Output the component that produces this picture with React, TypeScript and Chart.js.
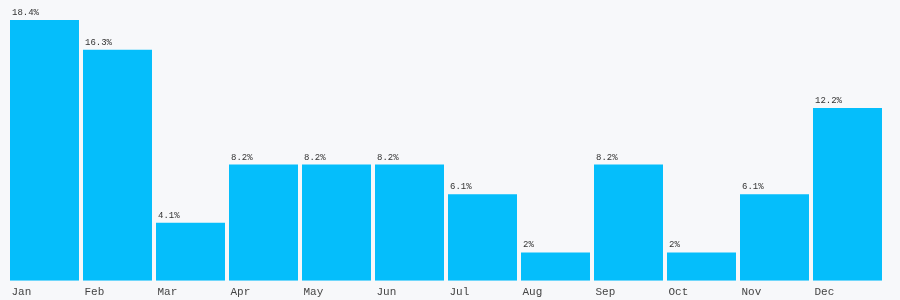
import React, { useEffect, useRef } from "react";
import { Chart, registerables } from "chart.js";

Chart.register(...registerables);

const months = ["Jan", "Feb", "Mar", "Apr", "May", "Jun", "Jul", "Aug", "Sep", "Oct", "Nov", "Dec"];
const shares = [18.4, 16.3, 4.1, 8.2, 8.2, 8.2, 6.1, 2, 8.2, 2, 6.1, 12.2];

const valueLabels = {
  id: "valueLabels",
  afterDatasetsDraw(chart: any) {
    const ctx = chart.ctx;
    const meta = chart.getDatasetMeta(0);
    ctx.save();
    ctx.font = "9px 'Liberation Mono', monospace";
    ctx.fillStyle = "#333";
    ctx.textAlign = "left";
    ctx.textBaseline = "alphabetic";
    meta.data.forEach((el: any, i: number) => {
      ctx.fillText(`${shares[i]}%`, el.x - el.width / 2 + 2, el.y - 5);
    });
    ctx.restore();
  },
};

export default function App() {
  const ref = useRef<HTMLCanvasElement>(null);
  useEffect(() => {
    document.body.style.background = "#f7f8fa";
    document.body.style.overflow = "hidden";
    const chart = new Chart(ref.current!, {
      type: "bar",
      data: {
        labels: months,
        datasets: [
          {
            data: shares,
            backgroundColor: "#05befb",
            borderWidth: 0,
            categoryPercentage: 1,
            barPercentage: 0.945,
          },
        ],
      },
      options: {
        animation: false,
        responsive: true,
        maintainAspectRatio: false,
        layout: { padding: { top: 12, bottom: -4, left: 0, right: 0 } },
        plugins: { legend: { display: false }, tooltip: { enabled: false } },
        scales: {
          x: {
            grid: { display: false, drawTicks: false },
            border: { display: false },
            ticks: {
              align: "start",
              labelOffset: -33,
              padding: 5,
              color: "#444",
              font: { family: "'Liberation Mono', monospace", size: 11 },
              maxRotation: 0,
              autoSkip: false,
            },
          },
          y: {
            display: false,
            min: 0,
            max: 18.4,
          },
        },
      },
      plugins: [valueLabels],
    });
    return () => chart.destroy();
  }, []);
  return (
    <div style={{ width: 876, height: 292, position: "relative" }}>
      <canvas ref={ref} />
    </div>
  );
}
